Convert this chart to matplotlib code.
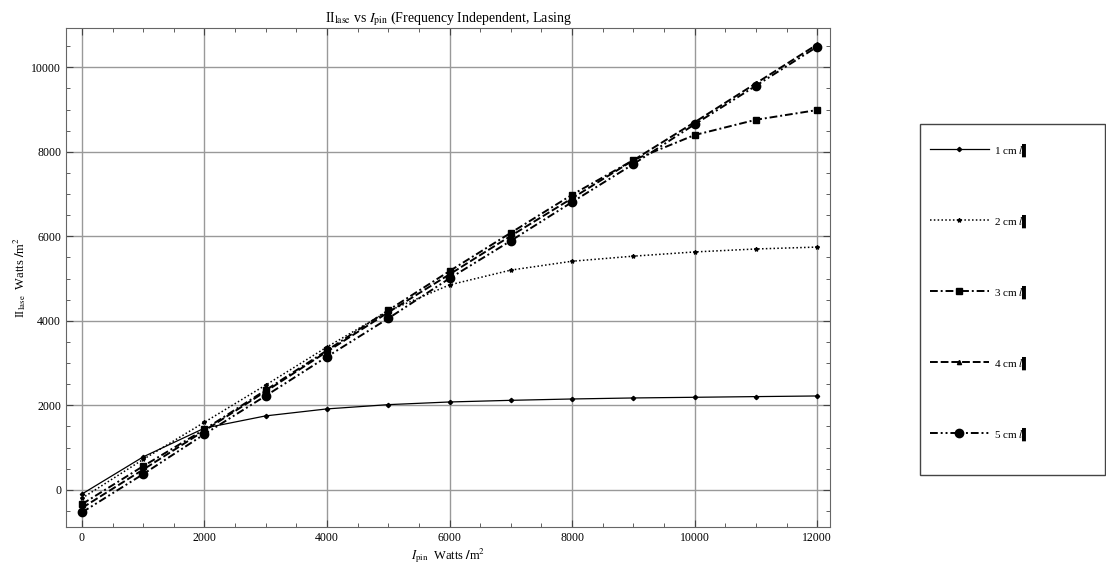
import matplotlib.pyplot as plt
from matplotlib.patches import Rectangle
from matplotlib.ticker import MultipleLocator

plt.rcParams['font.family'] = ['Liberation Serif', 'DejaVu Serif']
plt.rcParams['mathtext.fontset'] = 'stix'

# pump intensity (Watts/m^2)
i_pin = [0, 1000, 2000, 3000, 4000, 5000, 6000, 7000, 8000, 9000, 10000, 11000, 12000]

# lasing intensity for each cavity length (Watts/m^2)
len_1cm = [-100, 780, 1460, 1750, 1915, 2016, 2079, 2118, 2150, 2174, 2190, 2206, 2221]
len_2cm = [-200, 720, 1600, 2480, 3380, 4230, 4850, 5200, 5410, 5530, 5630, 5700, 5745]
len_3cm = [-340, 560, 1430, 2360, 3300, 4250, 5177, 6083, 6983, 7804, 8396, 8758, 8988]
len_4cm = [-430, 480, 1400, 2330, 3270, 4200, 5100, 6010, 6900, 7800, 8700, 9620, 10540]
len_5cm = [-535, 372, 1318, 2225, 3150, 4057, 5004, 5894, 6810, 7709, 8649, 9563, 10486]

labels = ['1 cm $l$\u258c', '2 cm $l$\u258c', '3 cm $l$\u258c', '4 cm $l$\u258c', '5 cm $l$\u258c']

fig = plt.figure(figsize=(11.06, 5.76), dpi=100)
ax = fig.add_axes([66 / 1106, 1 - 527 / 576, (830 - 66) / 1106, (527 - 28) / 576])

ax.plot(i_pin, len_1cm, color='black', lw=0.9, ls='-', marker='D', ms=2.2, label=labels[0])
ax.plot(i_pin, len_2cm, color='black', lw=1.1, ls=(0, (1, 1.5)), marker='*', ms=3, label=labels[1])
ax.plot(i_pin, len_3cm, color='black', lw=1.4, ls=(0, (4, 1.5, 1, 1.5)), marker='s', ms=5, label=labels[2])
ax.plot(i_pin, len_4cm, color='black', lw=1.4, ls=(0, (4, 1.5)), marker='^', ms=3, label=labels[3])
ax.plot(i_pin, len_5cm, color='black', lw=1.4, ls=(0, (4, 1.5, 1, 1.5, 1, 1.5)), marker='o', ms=6, label=labels[4])

ax.set_xlim(-260, 12210)
ax.set_ylim(-880, 10930)
ax.xaxis.set_major_locator(MultipleLocator(2000))
ax.xaxis.set_minor_locator(MultipleLocator(500))
ax.yaxis.set_major_locator(MultipleLocator(2000))
ax.yaxis.set_minor_locator(MultipleLocator(500))
ax.tick_params(which='both', direction='in', top=True, right=True, labelsize=8.5, color='#444444')
ax.tick_params(which='major', length=5)
ax.tick_params(which='minor', length=3)
ax.grid(True, which='major', color='#999999', lw=1)
for s in ax.spines.values():
    s.set_color('#666666')

ax.set_title(r'II$_{\rm lase}$ vs $I_{\rm pin}$ $\mathbf{(}$Frequency Independent, Lasing', fontsize=10, pad=3)
ax.set_xlabel(r'$I_{\rm pin}$  Watts $\mathbf{/}$m$^2$', fontsize=9, labelpad=2)
ax.set_ylabel(r'II$_{\rm lase}$  Watts $\mathbf{/}$m$^2$', fontsize=9, labelpad=2)

# legend box drawn separately so the padding can match
fig.patches.append(Rectangle((920 / 1106, 1 - 475 / 576), 185 / 1106, 351 / 576,
                             transform=fig.transFigure, fill=False, edgecolor='#444444', lw=1))
fig.legend(loc='upper left', bbox_to_anchor=(930 / 1106, 1 - 141 / 576),
           fontsize=8, frameon=False, labelspacing=4.8, handlelength=5.3,
           handletextpad=0.5, borderpad=0, borderaxespad=0)

fig.savefig('out.png', dpi=100)
